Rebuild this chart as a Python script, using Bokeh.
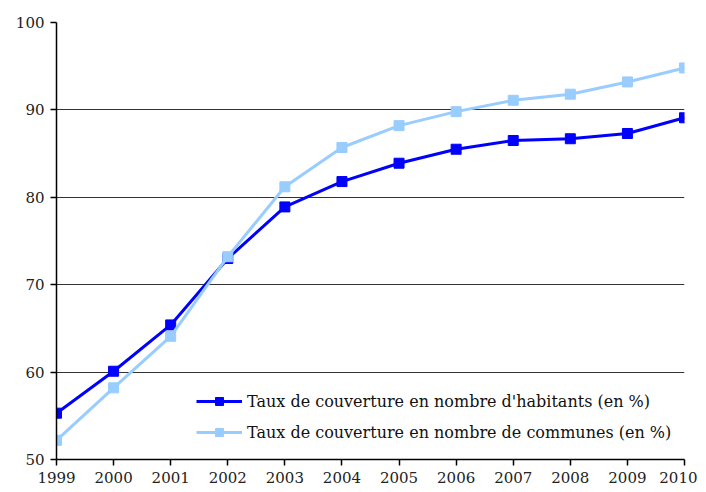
from bokeh.plotting import figure
from bokeh.models import Range1d, FixedTicker, Legend, LegendItem
from bokeh.embed import file_html
from bokeh.resources import INLINE

years = [1999, 2000, 2001, 2002, 2003, 2004, 2005, 2006, 2007, 2008, 2009, 2010]
habitants = [55.3, 60.1, 65.4, 73.0, 78.9, 81.8, 83.9, 85.5, 86.5, 86.7, 87.3, 89.1]
communes = [52.2, 58.2, 64.1, 73.2, 81.2, 85.7, 88.2, 89.8, 91.1, 91.8, 93.2, 94.8]
label_hab = "Taux de couverture en nombre d'habitants (en %)"
label_com = "Taux de couverture en nombre de communes (en %)"
y_ticks = [50, 60, 70, 80, 90, 100]

FONT = "DejaVu Serif"

p = figure(width=697, height=491, output_backend="svg", toolbar_location=None,
           x_range=Range1d(1999, 2010), y_range=Range1d(50, 100),
           min_border_left=56, min_border_right=13, min_border_top=22, min_border_bottom=32)
p.outline_line_color = None
p.background_fill_color = "white"

# axes
for ax in (p.xaxis[0], p.yaxis[0]):
    ax.axis_line_color = "black"
    ax.axis_line_width = 1.5
    ax.major_tick_line_color = "black"
    ax.major_tick_line_width = 1.5
    ax.minor_tick_line_color = None
    ax.major_tick_out = 6
    ax.major_tick_in = 0
    ax.major_label_text_font = FONT
    ax.major_label_text_font_size = "15px"
    ax.major_label_text_color = "#222222"
p.xaxis.ticker = FixedTicker(ticks=years)
p.yaxis.ticker = FixedTicker(ticks=y_ticks)
p.xaxis.major_label_standoff = 6
p.yaxis.major_label_standoff = 6

p.xgrid.grid_line_color = None
p.ygrid.grid_line_color = "#333333"
p.ygrid.grid_line_width = 1.2

r1 = p.line(years, habitants, line_color="#0000FF", line_width=3)
s1 = p.scatter(years, habitants, marker="square", size=10, fill_color="#0000FF", line_color="#0000FF")
r2 = p.line(years, communes, line_color="#99CCFF", line_width=3)
s2 = p.scatter(years, communes, marker="square", size=10, fill_color="#99CCFF", line_color="#99CCFF")

legend = Legend(items=[LegendItem(label=label_hab, renderers=[r1, s1]),
                       LegendItem(label=label_com, renderers=[r2, s2])],
                location=(140, 17))
legend.border_line_color = None
legend.background_fill_alpha = 0
legend.padding = 0
legend.margin = 0
legend.glyph_width = 46
legend.glyph_height = 20
legend.spacing = 11
legend.label_standoff = 5
legend.label_text_font = FONT
legend.label_text_font_size = "16px"
legend.label_text_color = "#111111"
p.add_layout(legend, "center")

open("out.html", "w").write(file_html(p, INLINE))
